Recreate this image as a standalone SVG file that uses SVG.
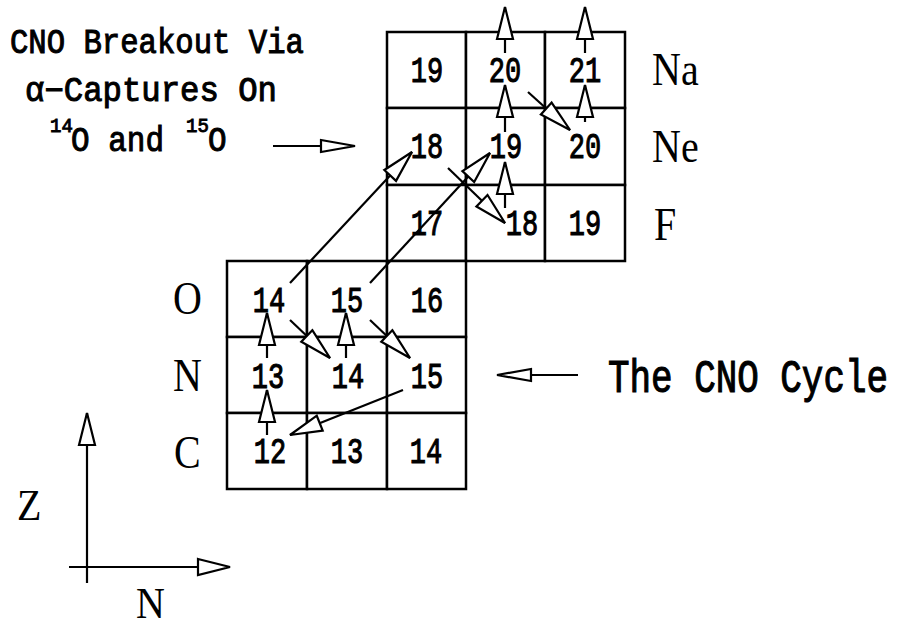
<svg xmlns="http://www.w3.org/2000/svg" width="899" height="627" viewBox="0 0 899 627">
<style>
.cell rect{fill:#fff;stroke:#000;stroke-width:2.5}
.num{font-family:"Liberation Mono",monospace;font-size:27px;text-anchor:middle;fill:#000;stroke:#000;stroke-width:0.8}
.el{font-family:"Liberation Serif",serif;font-size:40px;fill:#000}
.tt{font-family:"Liberation Mono",monospace;fill:#000;stroke:#000;stroke-width:0.9}
#connectors line{stroke:#000;stroke-width:2.2;fill:none}
.big{marker-end:url(#ah)}
.small{marker-end:url(#ahs)}
</style>
<defs>
<marker id="ah" markerUnits="userSpaceOnUse" viewBox="-2 -2 36 20" refX="32" refY="8" markerWidth="36" markerHeight="20" orient="auto">
<path d="M0,0 L32,8 L0,16 Z" fill="#fff" stroke="#000" stroke-width="2.2"/>
</marker>
<marker id="ahs" markerUnits="userSpaceOnUse" viewBox="-2 -2 38 16" refX="34" refY="6" markerWidth="38" markerHeight="16" orient="auto">
<path d="M0,0 L34,6 L0,12 Z" fill="#fff" stroke="#000" stroke-width="2.2"/>
</marker>
</defs>
<rect width="899" height="627" fill="#fff"/>

<!-- upper grid -->
<g id="Na19" class="cell"><rect x="387" y="32" width="79" height="76"/><text class="num" transform="translate(427,82) scale(1,1.4)">19</text></g>
<g id="Na20" class="cell"><rect x="466" y="32" width="79" height="76"/><text class="num" transform="translate(505,82) scale(1,1.4)">20</text></g>
<g id="Na21" class="cell"><rect x="545" y="32" width="80" height="76"/><text class="num" transform="translate(585,82) scale(1,1.4)">21</text></g>
<g id="Ne18" class="cell"><rect x="387" y="108" width="79" height="77"/><text class="num" transform="translate(427,158) scale(1,1.4)">18</text></g>
<g id="Ne19" class="cell"><rect x="466" y="108" width="79" height="77"/><text class="num" transform="translate(506,158) scale(1,1.4)">19</text></g>
<g id="Ne20" class="cell"><rect x="545" y="108" width="80" height="77"/><text class="num" transform="translate(585,158) scale(1,1.4)">20</text></g>
<g id="F17" class="cell"><rect x="387" y="185" width="79" height="76"/><text class="num" transform="translate(427,235) scale(1,1.4)">17</text></g>
<g id="F18" class="cell"><rect x="466" y="185" width="79" height="76"/><text class="num" transform="translate(522,235) scale(1,1.4)">18</text></g>
<g id="F19" class="cell"><rect x="545" y="185" width="80" height="76"/><text class="num" transform="translate(585,235) scale(1,1.4)">19</text></g>

<!-- lower grid -->
<g id="O14" class="cell"><rect x="227" y="261" width="80" height="76"/><text class="num" transform="translate(269,312) scale(1,1.4)">14</text></g>
<g id="O15" class="cell"><rect x="307" y="261" width="80" height="76"/><text class="num" transform="translate(347,312) scale(1,1.4)">15</text></g>
<g id="O16" class="cell"><rect x="387" y="261" width="79" height="76"/><text class="num" transform="translate(427,312) scale(1,1.4)">16</text></g>
<g id="N13" class="cell"><rect x="227" y="337" width="80" height="76"/><text class="num" transform="translate(268,388) scale(1,1.4)">13</text></g>
<g id="N14" class="cell"><rect x="307" y="337" width="80" height="76"/><text class="num" transform="translate(348,388) scale(1,1.4)">14</text></g>
<g id="N15" class="cell"><rect x="387" y="337" width="79" height="76"/><text class="num" transform="translate(427,388) scale(1,1.4)">15</text></g>
<g id="C12" class="cell"><rect x="227" y="413" width="80" height="76"/><text class="num" transform="translate(270,463) scale(1,1.4)">12</text></g>
<g id="C13" class="cell"><rect x="307" y="413" width="80" height="76"/><text class="num" transform="translate(347,463) scale(1,1.4)">13</text></g>
<g id="C14" class="cell"><rect x="387" y="413" width="79" height="76"/><text class="num" transform="translate(426,463) scale(1,1.4)">14</text></g>

<!-- element labels -->
<g id="labels">
<text class="el" transform="translate(652,85) scale(1,1.18)">Na</text>
<text class="el" transform="translate(652,162) scale(1,1.18)">Ne</text>
<text class="el" transform="translate(654,240) scale(1,1.18)">F</text>
<text class="el" transform="translate(173,314) scale(1,1.18)">O</text>
<text class="el" transform="translate(173,391) scale(1,1.18)">N</text>
<text class="el" transform="translate(174,468) scale(1,1.18)">C</text>
<text class="el" transform="translate(17,520) scale(1,1.1)">Z</text>
<text class="el" transform="translate(136,618) scale(1,1.1)">N</text>
</g>

<!-- annotations -->
<g id="breakout-label">
<text class="tt" font-size="30" textLength="294" lengthAdjust="spacingAndGlyphs" transform="translate(10,53) scale(1,1.15)">CNO Breakout Via</text>
<text class="tt" font-size="30" textLength="252" lengthAdjust="spacingAndGlyphs" transform="translate(25,101) scale(1,1.15)">α−Captures On</text>
<text class="tt" font-size="19" transform="translate(50,132) scale(1,1.1)">14</text>
<text class="tt" font-size="31" transform="translate(71,151) scale(1,1.15)">O and</text>
<text class="tt" font-size="19" transform="translate(186,132) scale(1,1.1)">15</text>
<text class="tt" font-size="31" transform="translate(208,151) scale(1,1.15)">O</text>
</g>
<g id="cycle-label">
<text class="tt" font-size="36" stroke-width="0.7" textLength="280" lengthAdjust="spacingAndGlyphs" transform="translate(608,392) scale(1,1.3)">The CNO Cycle</text>
</g>

<g id="connectors">
<line class="big" x1="267" y1="435" x2="267" y2="390"/>
<line class="big" x1="267" y1="358" x2="267" y2="313"/>
<line class="big" x1="290" y1="320" x2="330" y2="358"/>
<line class="big" x1="346" y1="358" x2="346" y2="313"/>
<line class="big" x1="370" y1="320" x2="410" y2="358"/>
<line class="big" x1="403" y1="390" x2="290" y2="435"/>
<line class="big" x1="290" y1="283" x2="412" y2="152"/>
<line class="big" x1="370" y1="283" x2="490" y2="153"/>
<line class="big" x1="448" y1="168" x2="505" y2="223"/>
<line class="big" x1="505" y1="208" x2="505" y2="162"/>
<line class="big" x1="505" y1="132" x2="505" y2="85"/>
<line class="big" x1="505" y1="53" x2="505" y2="7"/>
<line class="big" x1="528" y1="92" x2="570" y2="130"/>
<line class="big" x1="585" y1="122" x2="585" y2="85"/>
<line class="big" x1="585" y1="53" x2="585" y2="7"/>
<line class="big" x1="87" y1="583" x2="87" y2="413"/>
<line class="big" x1="69" y1="567" x2="230" y2="567"/>
<line class="small" x1="273" y1="146" x2="355" y2="146"/>
<line class="small" x1="578" y1="375" x2="497" y2="375"/>
</g>
</svg>
